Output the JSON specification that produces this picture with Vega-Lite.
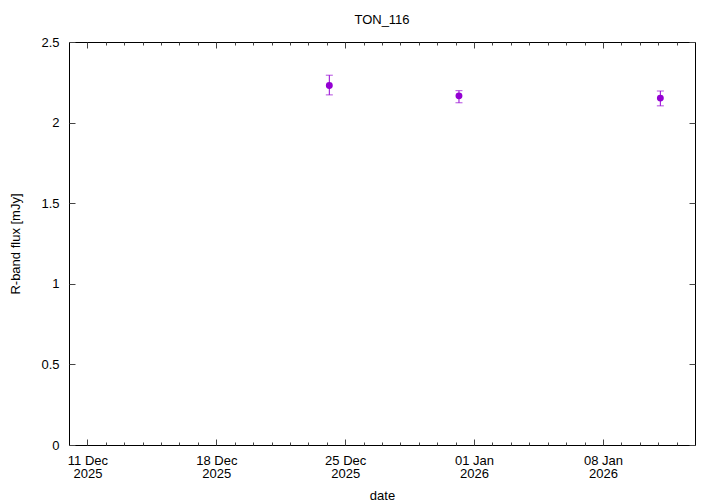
{
  "$schema": "https://vega.github.io/schema/vega-lite/v6.json",
  "autosize": "none",
  "width": 626,
  "height": 403,
  "padding": {"left": 69, "top": 42, "right": 25, "bottom": 59},
  "background": "white",
  "title": {"text": "TON_116", "font": "Liberation Sans", "fontSize": 13, "fontWeight": "normal", "color": "black", "offset": 9},
  "config": {
    "view": {"stroke": "black", "strokeWidth": 1},
    "axis": {
      "domain": false,
      "grid": false,
      "labelFont": "Liberation Sans",
      "labelFontSize": 13,
      "labelColor": "black",
      "titleFont": "Liberation Sans",
      "titleFontSize": 13,
      "titleFontWeight": "normal",
      "titleColor": "black",
      "tickColor": "#444444",
      "tickWidth": 1
    }
  },
  "data": {
    "values": [
      {"date": "2025-12-24T03:20:00Z", "flux": 2.230, "lo": 2.172, "hi": 2.294},
      {"date": "2025-12-31T04:20:00Z", "flux": 2.166, "lo": 2.123, "hi": 2.198},
      {"date": "2026-01-11T02:50:00Z", "flux": 2.152, "lo": 2.104, "hi": 2.196}
    ]
  },
  "resolve": {"axis": {"x": "independent", "y": "independent"}},
  "layer": [
    {
      "mark": {"type": "rule", "color": "#9400d3", "strokeWidth": 1},
      "encoding": {
        "x": {"field": "date", "type": "temporal",
          "scale": {"type": "utc", "domain": ["2025-12-10T00:00:00Z", "2026-01-13T00:00:00Z"]},
          "axis": {"orient": "top", "labels": false, "title": null,
            "values": [
              {"year": 2025, "month": 12, "date": 11, "utc": true},
              {"year": 2025, "month": 12, "date": 12, "utc": true},
              {"year": 2025, "month": 12, "date": 13, "utc": true},
              {"year": 2025, "month": 12, "date": 14, "utc": true},
              {"year": 2025, "month": 12, "date": 15, "utc": true},
              {"year": 2025, "month": 12, "date": 16, "utc": true},
              {"year": 2025, "month": 12, "date": 17, "utc": true},
              {"year": 2025, "month": 12, "date": 18, "utc": true},
              {"year": 2025, "month": 12, "date": 19, "utc": true},
              {"year": 2025, "month": 12, "date": 20, "utc": true},
              {"year": 2025, "month": 12, "date": 21, "utc": true},
              {"year": 2025, "month": 12, "date": 22, "utc": true},
              {"year": 2025, "month": 12, "date": 23, "utc": true},
              {"year": 2025, "month": 12, "date": 24, "utc": true},
              {"year": 2025, "month": 12, "date": 25, "utc": true},
              {"year": 2025, "month": 12, "date": 26, "utc": true},
              {"year": 2025, "month": 12, "date": 27, "utc": true},
              {"year": 2025, "month": 12, "date": 28, "utc": true},
              {"year": 2025, "month": 12, "date": 29, "utc": true},
              {"year": 2025, "month": 12, "date": 30, "utc": true},
              {"year": 2025, "month": 12, "date": 31, "utc": true},
              {"year": 2026, "month": 1, "date": 1, "utc": true},
              {"year": 2026, "month": 1, "date": 2, "utc": true},
              {"year": 2026, "month": 1, "date": 3, "utc": true},
              {"year": 2026, "month": 1, "date": 4, "utc": true},
              {"year": 2026, "month": 1, "date": 5, "utc": true},
              {"year": 2026, "month": 1, "date": 6, "utc": true},
              {"year": 2026, "month": 1, "date": 7, "utc": true},
              {"year": 2026, "month": 1, "date": 8, "utc": true},
              {"year": 2026, "month": 1, "date": 9, "utc": true},
              {"year": 2026, "month": 1, "date": 10, "utc": true},
              {"year": 2026, "month": 1, "date": 11, "utc": true},
              {"year": 2026, "month": 1, "date": 12, "utc": true}
            ],
            "tickSize": {"condition": {"test": "utcday(datum.value) == 4", "value": -6}, "value": -3}
          }
        },
        "y": {"field": "lo", "type": "quantitative",
          "scale": {"domain": [0, 2.5], "nice": false, "zero": false},
          "axis": {"orient": "right", "labels": false, "title": null, "values": [0, 0.5, 1, 1.5, 2, 2.5], "tickSize": -6}
        },
        "y2": {"field": "hi"}
      }
    },
    {
      "mark": {"type": "tick", "orient": "horizontal", "color": "#9400d3", "size": 7, "thickness": 1},
      "encoding": {
        "x": {"field": "date", "type": "temporal", "axis": null},
        "y": {"field": "lo", "type": "quantitative", "axis": null}
      }
    },
    {
      "mark": {"type": "tick", "orient": "horizontal", "color": "#9400d3", "size": 7, "thickness": 1},
      "encoding": {
        "x": {"field": "date", "type": "temporal", "axis": null},
        "y": {"field": "hi", "type": "quantitative", "axis": null}
      }
    },
    {
      "mark": {"type": "circle", "color": "#9400d3", "size": 48, "opacity": 1},
      "encoding": {
        "x": {"field": "date", "type": "temporal", "title": "date",
          "axis": {"orient": "bottom", "titlePadding": 9,
            "values": [
              {"year": 2025, "month": 12, "date": 11, "utc": true},
              {"year": 2025, "month": 12, "date": 12, "utc": true},
              {"year": 2025, "month": 12, "date": 13, "utc": true},
              {"year": 2025, "month": 12, "date": 14, "utc": true},
              {"year": 2025, "month": 12, "date": 15, "utc": true},
              {"year": 2025, "month": 12, "date": 16, "utc": true},
              {"year": 2025, "month": 12, "date": 17, "utc": true},
              {"year": 2025, "month": 12, "date": 18, "utc": true},
              {"year": 2025, "month": 12, "date": 19, "utc": true},
              {"year": 2025, "month": 12, "date": 20, "utc": true},
              {"year": 2025, "month": 12, "date": 21, "utc": true},
              {"year": 2025, "month": 12, "date": 22, "utc": true},
              {"year": 2025, "month": 12, "date": 23, "utc": true},
              {"year": 2025, "month": 12, "date": 24, "utc": true},
              {"year": 2025, "month": 12, "date": 25, "utc": true},
              {"year": 2025, "month": 12, "date": 26, "utc": true},
              {"year": 2025, "month": 12, "date": 27, "utc": true},
              {"year": 2025, "month": 12, "date": 28, "utc": true},
              {"year": 2025, "month": 12, "date": 29, "utc": true},
              {"year": 2025, "month": 12, "date": 30, "utc": true},
              {"year": 2025, "month": 12, "date": 31, "utc": true},
              {"year": 2026, "month": 1, "date": 1, "utc": true},
              {"year": 2026, "month": 1, "date": 2, "utc": true},
              {"year": 2026, "month": 1, "date": 3, "utc": true},
              {"year": 2026, "month": 1, "date": 4, "utc": true},
              {"year": 2026, "month": 1, "date": 5, "utc": true},
              {"year": 2026, "month": 1, "date": 6, "utc": true},
              {"year": 2026, "month": 1, "date": 7, "utc": true},
              {"year": 2026, "month": 1, "date": 8, "utc": true},
              {"year": 2026, "month": 1, "date": 9, "utc": true},
              {"year": 2026, "month": 1, "date": 10, "utc": true},
              {"year": 2026, "month": 1, "date": 11, "utc": true},
              {"year": 2026, "month": 1, "date": 12, "utc": true}
            ],
            "tickSize": {"condition": {"test": "utcday(datum.value) == 4", "value": -6}, "value": -3},
            "labelPadding": 15,
            "labelBaseline": "top",
            "labelLineHeight": 13.5,
            "labelOverlap": false,
            "labelExpr": "utcday(datum.value) == 4 ? [utcFormat(datum.value, '%d %b'), utcFormat(datum.value, '%Y')] : ''"
          }
        },
        "y": {"field": "flux", "type": "quantitative", "title": "R-band flux [mJy]",
          "axis": {"orient": "left", "values": [0, 0.5, 1, 1.5, 2, 2.5], "format": "~g", "tickSize": -6, "labelPadding": 16, "titlePadding": 18}
        }
      }
    }
  ]
}
